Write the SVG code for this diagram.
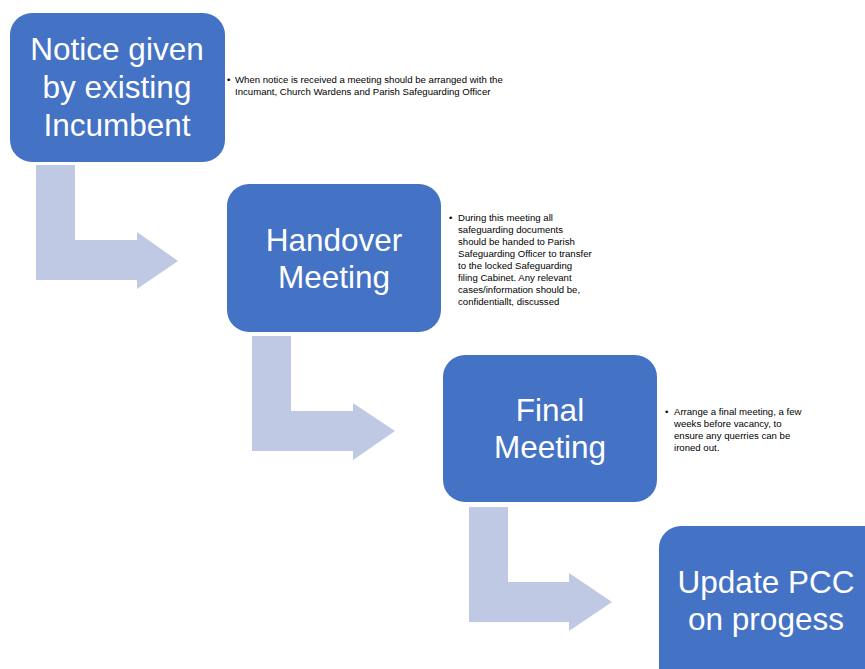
<svg xmlns="http://www.w3.org/2000/svg" width="865" height="669" viewBox="0 0 865 669">
<style>
.node{fill:#4472C4}
.big{font-family:"Liberation Sans",Arial,sans-serif;font-size:31.5px;fill:#fff;text-anchor:middle}
.small{font-family:"Liberation Sans",Arial,sans-serif;font-size:9.6px;fill:#000}
.arrow{fill:#BFC9E4}
</style>
<rect width="865" height="669" fill="#fff"/>
<g id="connectors">
<path class="arrow" d="M36,165 H75 V240 H137 V232 L178,261 L137,289 V280 H36 Z"/>
<path class="arrow" d="M252,336 H291 V411 H353 V403 L395,431 L353,460 V451 H252 Z"/>
<path class="arrow" d="M469,507 H508 V582 H569 V573 L612,602 L569,631 V622 H469 Z"/>
</g>
<g id="node1">
<rect class="node" x="10" y="13" width="215" height="149" rx="22"/>
<text class="big"><tspan x="117" y="60">Notice given</tspan><tspan x="117" y="98">by existing</tspan><tspan x="117" y="136">Incumbent</tspan></text>
</g>
<g id="note1">
<text class="small"><tspan x="227" y="83">•</tspan><tspan x="235" y="83">When notice is received a meeting should be arranged with the</tspan><tspan x="235" y="95">Incumant, Church Wardens and Parish Safeguarding Officer</tspan></text>
</g>
<g id="node2">
<rect class="node" x="227" y="184" width="214" height="148" rx="22"/>
<text class="big"><tspan x="334" y="251">Handover</tspan><tspan x="334" y="288">Meeting</tspan></text>
</g>
<g id="note2">
<text class="small"><tspan x="449" y="221">•</tspan><tspan x="458" y="221">During this meeting all</tspan><tspan x="458" y="233">safeguarding documents</tspan><tspan x="458" y="245">should be handed to Parish</tspan><tspan x="458" y="257">Safeguarding Officer to transfer</tspan><tspan x="458" y="269">to the locked Safeguarding</tspan><tspan x="458" y="281">filing Cabinet.  Any relevant</tspan><tspan x="458" y="293">cases/information should be,</tspan><tspan x="458" y="305">confidentiallt,  discussed</tspan></text>
</g>
<g id="node3">
<rect class="node" x="443" y="355" width="214" height="147" rx="22"/>
<text class="big"><tspan x="550" y="421">Final</tspan><tspan x="550" y="458">Meeting</tspan></text>
</g>
<g id="note3">
<text class="small"><tspan x="665" y="415">•</tspan><tspan x="674" y="415">Arrange a final meeting, a few</tspan><tspan x="674" y="427">weeks before vacancy, to</tspan><tspan x="674" y="439">ensure any querries can be</tspan><tspan x="674" y="451">ironed out.</tspan></text>
</g>
<g id="node4">
<rect class="node" x="659" y="526" width="230" height="170" rx="22"/>
<text class="big"><tspan x="766" y="593">Update PCC</tspan><tspan x="766" y="630">on progess</tspan></text>
</g>
</svg>
